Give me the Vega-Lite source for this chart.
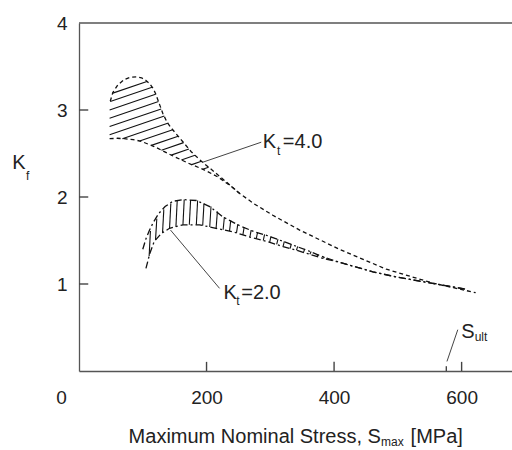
{
  "$schema": "https://vega.github.io/schema/vega-lite/v6.json",
  "width": 433,
  "height": 348,
  "autosize": {"type": "none"},
  "padding": {"left": 79, "top": 23, "right": 0, "bottom": 79},
  "background": "white",
  "config": {
    "view": {"stroke": null},
    "font": "Liberation Sans",
    "axis": {
      "domainColor": "#555555",
      "domainWidth": 1.3,
      "ticks": false,
      "labelFont": "Liberation Sans",
      "labelFontSize": 19,
      "labelColor": "#222222",
      "grid": false
    },
    "axisY": {"labelPadding": 12},
    "axisX": {"labelPadding": 17}
  },
  "datasets": {
    "curves": [
      {"series": "Kt4_upper", "group": "Kt4", "x": 49, "y": 3.10},
      {"series": "Kt4_upper", "group": "Kt4", "x": 53, "y": 3.20},
      {"series": "Kt4_upper", "group": "Kt4", "x": 61, "y": 3.29},
      {"series": "Kt4_upper", "group": "Kt4", "x": 71, "y": 3.35},
      {"series": "Kt4_upper", "group": "Kt4", "x": 80, "y": 3.375},
      {"series": "Kt4_upper", "group": "Kt4", "x": 90, "y": 3.38},
      {"series": "Kt4_upper", "group": "Kt4", "x": 98, "y": 3.37},
      {"series": "Kt4_upper", "group": "Kt4", "x": 105, "y": 3.34},
      {"series": "Kt4_upper", "group": "Kt4", "x": 111, "y": 3.30},
      {"series": "Kt4_upper", "group": "Kt4", "x": 116, "y": 3.25},
      {"series": "Kt4_upper", "group": "Kt4", "x": 120, "y": 3.19},
      {"series": "Kt4_upper", "group": "Kt4", "x": 124, "y": 3.11},
      {"series": "Kt4_upper", "group": "Kt4", "x": 131.5, "y": 2.96},
      {"series": "Kt4_upper", "group": "Kt4", "x": 138, "y": 2.86},
      {"series": "Kt4_upper", "group": "Kt4", "x": 145, "y": 2.79},
      {"series": "Kt4_upper", "group": "Kt4", "x": 160, "y": 2.66},
      {"series": "Kt4_upper", "group": "Kt4", "x": 176, "y": 2.52},
      {"series": "Kt4_upper", "group": "Kt4", "x": 192, "y": 2.41},
      {"series": "Kt4_upper", "group": "Kt4", "x": 212, "y": 2.29},
      {"series": "Kt4_upper", "group": "Kt4", "x": 233, "y": 2.16},
      {"series": "Kt4_upper", "group": "Kt4", "x": 252, "y": 2.04},
      {"series": "Kt4_upper", "group": "Kt4", "x": 275, "y": 1.92},
      {"series": "Kt4_upper", "group": "Kt4", "x": 304, "y": 1.79},
      {"series": "Kt4_upper", "group": "Kt4", "x": 346, "y": 1.62},
      {"series": "Kt4_upper", "group": "Kt4", "x": 408, "y": 1.40},
      {"series": "Kt4_upper", "group": "Kt4", "x": 482, "y": 1.17},
      {"series": "Kt4_upper", "group": "Kt4", "x": 555, "y": 1.01},
      {"series": "Kt4_upper", "group": "Kt4", "x": 622, "y": 0.90},
      {"series": "Kt4_lower", "group": "Kt4", "x": 48, "y": 2.67},
      {"series": "Kt4_lower", "group": "Kt4", "x": 60, "y": 2.675},
      {"series": "Kt4_lower", "group": "Kt4", "x": 71, "y": 2.67},
      {"series": "Kt4_lower", "group": "Kt4", "x": 85, "y": 2.66},
      {"series": "Kt4_lower", "group": "Kt4", "x": 97.5, "y": 2.64},
      {"series": "Kt4_lower", "group": "Kt4", "x": 118, "y": 2.58},
      {"series": "Kt4_lower", "group": "Kt4", "x": 145, "y": 2.48},
      {"series": "Kt4_lower", "group": "Kt4", "x": 171, "y": 2.39},
      {"series": "Kt4_lower", "group": "Kt4", "x": 197, "y": 2.31},
      {"series": "Kt4_lower", "group": "Kt4", "x": 218, "y": 2.23},
      {"series": "Kt4_lower", "group": "Kt4", "x": 239, "y": 2.12},
      {"series": "Kt4_lower", "group": "Kt4", "x": 252, "y": 2.04},
      {"series": "Kt2_upper", "group": "Kt2", "x": 100, "y": 1.40},
      {"series": "Kt2_upper", "group": "Kt2", "x": 105, "y": 1.52},
      {"series": "Kt2_upper", "group": "Kt2", "x": 110, "y": 1.61},
      {"series": "Kt2_upper", "group": "Kt2", "x": 116, "y": 1.70},
      {"series": "Kt2_upper", "group": "Kt2", "x": 125, "y": 1.81},
      {"series": "Kt2_upper", "group": "Kt2", "x": 135, "y": 1.89},
      {"series": "Kt2_upper", "group": "Kt2", "x": 147, "y": 1.95},
      {"series": "Kt2_upper", "group": "Kt2", "x": 163, "y": 1.97},
      {"series": "Kt2_upper", "group": "Kt2", "x": 184, "y": 1.96},
      {"series": "Kt2_upper", "group": "Kt2", "x": 205, "y": 1.89},
      {"series": "Kt2_upper", "group": "Kt2", "x": 226, "y": 1.77},
      {"series": "Kt2_upper", "group": "Kt2", "x": 252, "y": 1.67},
      {"series": "Kt2_upper", "group": "Kt2", "x": 275, "y": 1.60},
      {"series": "Kt2_upper", "group": "Kt2", "x": 294, "y": 1.56},
      {"series": "Kt2_upper", "group": "Kt2", "x": 320, "y": 1.49},
      {"series": "Kt2_upper", "group": "Kt2", "x": 340, "y": 1.435},
      {"series": "Kt2_upper", "group": "Kt2", "x": 360, "y": 1.38},
      {"series": "Kt2_upper", "group": "Kt2", "x": 380, "y": 1.32},
      {"series": "Kt2_upper", "group": "Kt2", "x": 400, "y": 1.27},
      {"series": "Kt2_upper", "group": "Kt2", "x": 420, "y": 1.225},
      {"series": "Kt2_upper", "group": "Kt2", "x": 461, "y": 1.14},
      {"series": "Kt2_upper", "group": "Kt2", "x": 498, "y": 1.08},
      {"series": "Kt2_upper", "group": "Kt2", "x": 560, "y": 1.00},
      {"series": "Kt2_upper", "group": "Kt2", "x": 607, "y": 0.94},
      {"series": "Kt2_lower", "group": "Kt2", "x": 105, "y": 1.18},
      {"series": "Kt2_lower", "group": "Kt2", "x": 111, "y": 1.35},
      {"series": "Kt2_lower", "group": "Kt2", "x": 118, "y": 1.49},
      {"series": "Kt2_lower", "group": "Kt2", "x": 129, "y": 1.58},
      {"series": "Kt2_lower", "group": "Kt2", "x": 142, "y": 1.64},
      {"series": "Kt2_lower", "group": "Kt2", "x": 163, "y": 1.68},
      {"series": "Kt2_lower", "group": "Kt2", "x": 189, "y": 1.68},
      {"series": "Kt2_lower", "group": "Kt2", "x": 215, "y": 1.64},
      {"series": "Kt2_lower", "group": "Kt2", "x": 241, "y": 1.60},
      {"series": "Kt2_lower", "group": "Kt2", "x": 268, "y": 1.54},
      {"series": "Kt2_lower", "group": "Kt2", "x": 294, "y": 1.49},
      {"series": "Kt2_lower", "group": "Kt2", "x": 320, "y": 1.43},
      {"series": "Kt2_lower", "group": "Kt2", "x": 340, "y": 1.39},
      {"series": "Kt2_lower", "group": "Kt2", "x": 360, "y": 1.345},
      {"series": "Kt2_lower", "group": "Kt2", "x": 380, "y": 1.30},
      {"series": "Kt2_lower", "group": "Kt2", "x": 400, "y": 1.265},
      {"series": "Kt2_lower", "group": "Kt2", "x": 420, "y": 1.225},
      {"series": "Kt2_lower", "group": "Kt2", "x": 461, "y": 1.14},
      {"series": "Kt2_lower", "group": "Kt2", "x": 498, "y": 1.08},
      {"series": "Kt2_lower", "group": "Kt2", "x": 560, "y": 1.00},
      {"series": "Kt2_lower", "group": "Kt2", "x": 607, "y": 0.94}
    ],
    "hatch": [
      {"group": "Kt4", "x": 53, "y": 3.194, "x2": 106.5, "y2": 3.327},
      {"group": "Kt4", "x": 49, "y": 3.0975, "x2": 114.6, "y2": 3.261},
      {"group": "Kt4", "x": 48, "y": 3.0, "x2": 120, "y2": 3.18},
      {"group": "Kt4", "x": 48, "y": 2.905, "x2": 124.7, "y2": 3.097},
      {"group": "Kt4", "x": 48, "y": 2.81, "x2": 128.9, "y2": 3.012},
      {"group": "Kt4", "x": 48, "y": 2.715, "x2": 133.9, "y2": 2.93},
      {"group": "Kt4", "x": 68, "y": 2.67, "x2": 140.2, "y2": 2.851},
      {"group": "Kt4", "x": 95, "y": 2.6425, "x2": 147, "y2": 2.7725},
      {"group": "Kt4", "x": 113.4, "y": 2.5935, "x2": 155.5, "y2": 2.699},
      {"group": "Kt4", "x": 129.3, "y": 2.538, "x2": 164, "y2": 2.625},
      {"group": "Kt4", "x": 144.6, "y": 2.4815, "x2": 172.4, "y2": 2.551},
      {"group": "Kt4", "x": 160.5, "y": 2.426, "x2": 181.9, "y2": 2.48},
      {"group": "Kt4", "x": 176.8, "y": 2.372, "x2": 192, "y2": 2.41},
      {"group": "Kt4", "x": 193.8, "y": 2.32, "x2": 203.2, "y2": 2.343},
      {"group": "Kt2", "x": 110, "y": 1.32, "x2": 112, "y2": 1.61},
      {"group": "Kt2", "x": 120, "y": 1.506, "x2": 122, "y2": 1.749},
      {"group": "Kt2", "x": 131, "y": 1.589, "x2": 133, "y2": 1.858},
      {"group": "Kt2", "x": 142, "y": 1.64, "x2": 144, "y2": 1.925},
      {"group": "Kt2", "x": 152, "y": 1.659, "x2": 154, "y2": 1.956},
      {"group": "Kt2", "x": 163, "y": 1.68, "x2": 165, "y2": 1.97},
      {"group": "Kt2", "x": 173, "y": 1.68, "x2": 175, "y2": 1.965},
      {"group": "Kt2", "x": 184, "y": 1.68, "x2": 186, "y2": 1.96},
      {"group": "Kt2", "x": 194, "y": 1.672, "x2": 196, "y2": 1.927},
      {"group": "Kt2", "x": 205, "y": 1.655, "x2": 207, "y2": 1.89},
      {"group": "Kt2", "x": 215, "y": 1.64, "x2": 217, "y2": 1.833},
      {"group": "Kt2", "x": 226, "y": 1.623, "x2": 228, "y2": 1.77},
      {"group": "Kt2", "x": 236, "y": 1.608, "x2": 238, "y2": 1.732},
      {"group": "Kt2", "x": 247, "y": 1.587, "x2": 249, "y2": 1.689},
      {"group": "Kt2", "x": 257, "y": 1.564, "x2": 259, "y2": 1.655},
      {"group": "Kt2", "x": 268, "y": 1.54, "x2": 270, "y2": 1.621},
      {"group": "Kt2", "x": 278, "y": 1.521, "x2": 280, "y2": 1.594},
      {"group": "Kt2", "x": 289, "y": 1.5, "x2": 291, "y2": 1.571},
      {"group": "Kt2", "x": 299, "y": 1.478, "x2": 301, "y2": 1.547},
      {"group": "Kt2", "x": 310, "y": 1.455, "x2": 312, "y2": 1.517},
      {"group": "Kt2", "x": 320, "y": 1.43, "x2": 322, "y2": 1.49},
      {"group": "Kt2", "x": 331, "y": 1.408, "x2": 333, "y2": 1.46},
      {"group": "Kt2", "x": 341, "y": 1.388, "x2": 343, "y2": 1.432},
      {"group": "Kt2", "x": 352, "y": 1.363, "x2": 354, "y2": 1.402},
      {"group": "Kt2", "x": 362, "y": 1.341, "x2": 364, "y2": 1.374},
      {"group": "Kt2", "x": 373, "y": 1.316, "x2": 375, "y2": 1.341},
      {"group": "Kt2", "x": 383, "y": 1.295, "x2": 385, "y2": 1.3125}
    ],
    "xTickMarks": [
      {"x": 200, "y": 0, "y2": 0.105},
      {"x": 400, "y": 0, "y2": 0.105},
      {"x": 600, "y": 0, "y2": 0.105},
      {"x": 576, "y": 0, "y2": 0.055}
    ],
    "yTickMarks": [
      {"y": 1, "x": 0, "x2": 14.5},
      {"y": 2, "x": 0, "x2": 14.5},
      {"y": 3, "x": 0, "x2": 14.5}
    ],
    "leaders": [
      {"name": "Kt4", "x": 194.2, "y": 2.40, "x2": 285.8, "y2": 2.63},
      {"name": "Kt2", "x": 143.5, "y": 1.62, "x2": 220.4, "y2": 0.95},
      {"name": "Sult", "x": 577, "y": 0.11, "x2": 594, "y2": 0.475}
    ],
    "bigText": [
      {"text": "K", "x": 288.3, "y": 2.563},
      {"text": "=4.0", "x": 319.7, "y": 2.563},
      {"text": "K", "x": 226.7, "y": 0.828},
      {"text": "=2.0", "x": 254.4, "y": 0.828},
      {"text": "S", "x": 599.5, "y": 0.379},
      {"text": "K", "x": -104.8, "y": 2.322},
      {"text": "Maximum Nominal Stress, S", "x": 77.8, "y": -0.824},
      {"text": "[MPa]", "x": 520, "y": -0.824}
    ],
    "smallText": [
      {"text": "t", "x": 310.3, "y": 2.486},
      {"text": "t", "x": 246.6, "y": 0.762},
      {"text": "ult", "x": 620.4, "y": 0.34},
      {"text": "f", "x": -83.1, "y": 2.199},
      {"text": "max", "x": 473.7, "y": -0.859}
    ]
  },
  "layer": [
    {
      "data": {"name": "curves"},
      "transform": [{"filter": "datum.group === 'Kt4'"}],
      "mark": {"type": "line", "color": "#111111", "strokeWidth": 1.3, "strokeDash": [4, 3]},
      "encoding": {
        "x": {
          "field": "x", "type": "quantitative",
          "scale": {"domain": [0, 679], "nice": false, "zero": false},
          "axis": {
            "values": [0, 200, 400, 600],
            "format": "d",
            "title": null,
            "labelFlush": false,
            "labelOffset": {"condition": {"test": "datum.value === 0", "value": -18}, "value": 0}
          }
        },
        "y": {
          "field": "y", "type": "quantitative",
          "scale": {"domain": [0, 4], "nice": false, "zero": false},
          "axis": {"values": [1, 2, 3, 4], "format": "d", "title": null}
        },
        "detail": {"field": "series"}
      }
    },
    {
      "data": {"values": [{}]},
      "mark": {"type": "rule", "color": "#555555", "strokeWidth": 1.3},
      "encoding": {"y": {"datum": 4, "type": "quantitative"}}
    },
    {
      "data": {"name": "xTickMarks"},
      "mark": {"type": "rule", "color": "#444444", "strokeWidth": 1.4},
      "encoding": {
        "x": {"field": "x", "type": "quantitative", "title": null},
        "y": {"field": "y", "type": "quantitative", "title": null},
        "y2": {"field": "y2"}
      }
    },
    {
      "data": {"name": "yTickMarks"},
      "mark": {"type": "rule", "color": "#444444", "strokeWidth": 1.4},
      "encoding": {
        "y": {"field": "y", "type": "quantitative", "title": null},
        "x": {"field": "x", "type": "quantitative", "title": null},
        "x2": {"field": "x2"}
      }
    },
    {
      "data": {"name": "curves"},
      "transform": [{"filter": "datum.group === 'Kt2'"}],
      "mark": {"type": "line", "color": "#111111", "strokeWidth": 1.3, "strokeDash": [7, 3, 2, 3]},
      "encoding": {
        "x": {"field": "x", "type": "quantitative", "title": null},
        "y": {"field": "y", "type": "quantitative", "title": null},
        "detail": {"field": "series"}
      }
    },
    {
      "data": {"name": "hatch"},
      "mark": {"type": "rule", "color": "#111111", "strokeWidth": 1.1},
      "encoding": {
        "x": {"field": "x", "type": "quantitative", "title": null},
        "y": {"field": "y", "type": "quantitative", "title": null},
        "x2": {"field": "x2"},
        "y2": {"field": "y2"}
      }
    },
    {
      "data": {"name": "leaders"},
      "mark": {"type": "rule", "color": "#444444", "strokeWidth": 1},
      "encoding": {
        "x": {"field": "x", "type": "quantitative", "title": null},
        "y": {"field": "y", "type": "quantitative", "title": null},
        "x2": {"field": "x2"},
        "y2": {"field": "y2"}
      }
    },
    {
      "data": {"name": "bigText"},
      "mark": {"type": "text", "font": "Liberation Sans", "fontSize": 20, "align": "left", "baseline": "alphabetic", "color": "#222222"},
      "encoding": {
        "x": {"field": "x", "type": "quantitative", "title": null},
        "y": {"field": "y", "type": "quantitative", "title": null},
        "text": {"field": "text"}
      }
    },
    {
      "data": {"name": "smallText"},
      "mark": {"type": "text", "font": "Liberation Sans", "fontSize": 12, "align": "left", "baseline": "alphabetic", "color": "#222222"},
      "encoding": {
        "x": {"field": "x", "type": "quantitative", "title": null},
        "y": {"field": "y", "type": "quantitative", "title": null},
        "text": {"field": "text"}
      }
    }
  ]
}
